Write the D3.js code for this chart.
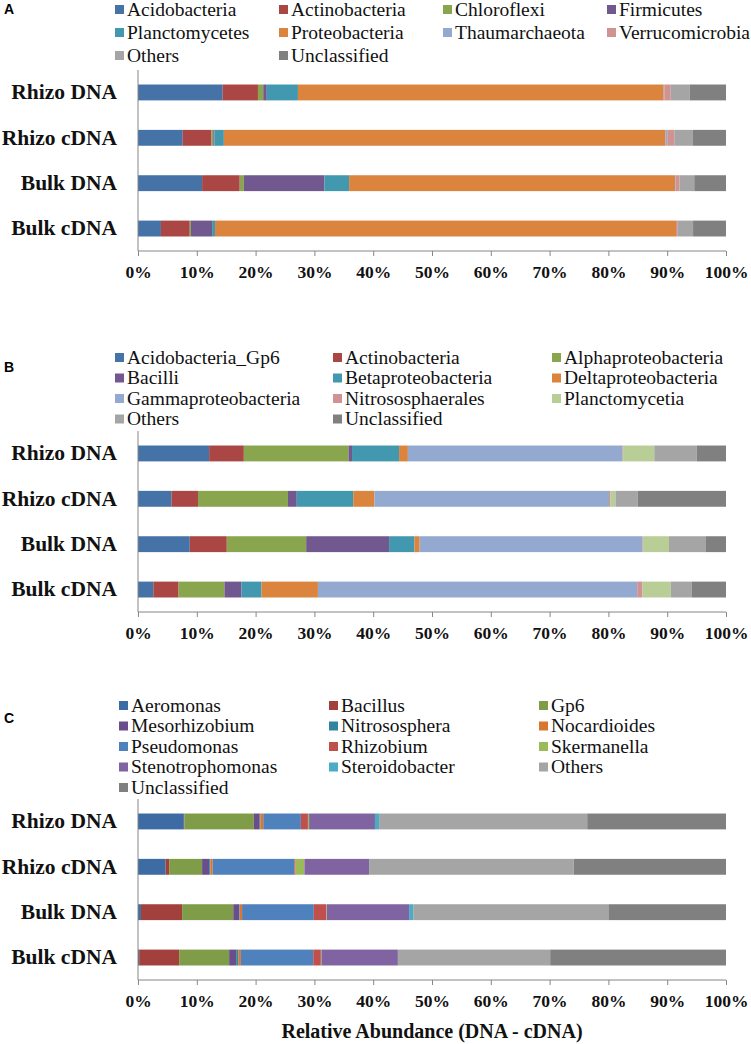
<!DOCTYPE html>
<html>
<head>
<meta charset="utf-8">
<script src="https://cdn.jsdelivr.net/npm/d3@7"></script>
<style>
  body { margin: 0; background: #fff; }
  svg { display: block; }
  .serif { font-family: 'Liberation Serif', 'Times New Roman', serif; }
</style>
</head>
<body>
<div id="chart"></div>
<script>
// samples (same order top to bottom in every panel)
const samples = ['Rhizo DNA', 'Rhizo cDNA', 'Bulk DNA', 'Bulk cDNA'];
const ticks = [0, 10, 20, 30, 40, 50, 60, 70, 80, 90, 100];

// panel A - phyla
const phylaTaxa = ['Acidobacteria', 'Actinobacteria', 'Chloroflexi', 'Firmicutes',
  'Planctomycetes', 'Proteobacteria', 'Thaumarchaeota', 'Verrucomicrobia',
  'Others', 'Unclassified'];
const phylaColors = ['#4572a7', '#aa4643', '#89a54e', '#71588f', '#4198af',
  '#db843d', '#93a9cf', '#d19392', '#a5a5a5', '#808080'];
const phylaValues = [
  [14.4, 6.0, 0.9, 0.6, 5.3, 62.2, 0.1, 1.1, 3.2, 6.2],
  [7.6, 4.9, 0.3, 0.2, 1.6, 75.1, 0.3, 1.2, 3.1, 5.7],
  [10.9, 6.4, 0.7, 13.7, 4.2, 55.5, 0.1, 0.6, 2.5, 5.4],
  [3.9, 4.9, 0.2, 3.6, 0.5, 78.4, 0.0, 0.3, 2.6, 5.6]
];

// panel B - classes
const classTaxa = ['Acidobacteria_Gp6', 'Actinobacteria', 'Alphaproteobacteria',
  'Bacilli', 'Betaproteobacteria', 'Deltaproteobacteria', 'Gammaproteobacteria',
  'Nitrososphaerales', 'Planctomycetia', 'Others', 'Unclassified'];
const classColors = ['#4572a7', '#aa4643', '#89a54e', '#71588f', '#4198af',
  '#db843d', '#93a9cf', '#d19392', '#b9cd96', '#a5a5a5', '#808080'];
const classValues = [
  [12.1, 5.9, 17.8, 0.6, 8.0, 1.5, 36.5, 0.1, 5.3, 7.2, 5.0],
  [5.7, 4.5, 15.3, 1.5, 9.6, 3.6, 39.9, 0.2, 0.9, 3.8, 15.0],
  [8.8, 6.3, 13.5, 14.1, 4.3, 0.9, 37.9, 0.1, 4.4, 6.2, 3.5],
  [2.6, 4.3, 7.8, 2.9, 3.4, 9.6, 54.3, 0.9, 4.8, 3.6, 5.8]
];

// panel C - genera
const genusTaxa = ['Aeromonas', 'Bacillus', 'Gp6', 'Mesorhizobium', 'Nitrososphera',
  'Nocardioides', 'Pseudomonas', 'Rhizobium', 'Skermanella', 'Stenotrophomonas',
  'Steroidobacter', 'Others', 'Unclassified'];
const genusColors = ['#3d6ba3', '#a2403d', '#7f9c48', '#6a4e8b', '#32859c',
  '#d8782f', '#4f81bd', '#c0504d', '#9bbb59', '#8064a2', '#4bacc6',
  '#a5a5a5', '#808080'];
const genusValues = [
  [7.8, 0.1, 11.8, 1.0, 0.1, 0.5, 6.4, 1.2, 0.2, 11.2, 0.7, 35.4, 23.6],
  [4.7, 0.6, 5.6, 1.2, 0.2, 0.4, 13.9, 0.2, 1.5, 11.0, 0.0, 34.8, 25.9],
  [0.5, 7.0, 8.7, 1.0, 0.1, 0.4, 12.2, 2.1, 0.1, 14.0, 0.7, 33.2, 20.0],
  [0.2, 6.8, 8.5, 1.2, 0.4, 0.4, 12.3, 1.3, 0.1, 13.0, 0.0, 25.9, 29.9]
];

const width = 751;
const height = 1044;
const axisColor = '#868686';

const svg = d3.select('#chart')
  .append('svg')
  .attr('width', width)
  .attr('height', height);

const x = d3.scaleLinear().domain([0, 100]).range([138, 726]);

function drawPanel(p) {
  const g = svg.append('g');

  // panel letter
  g.append('text')
    .attr('x', 4)
    .attr('y', p.letterY)
    .attr('dy', '0.35em')
    .style('font-family', 'Liberation Sans, Arial, sans-serif')
    .style('font-weight', 'bold')
    .style('font-size', '14px')
    .text(p.letter);

  // legend, filled row by row
  const leg = g.selectAll('.leg')
    .data(p.taxa)
    .enter()
    .append('g')
    .attr('transform', (d, i) => {
      const col = i % p.legendCols.length;
      const row = Math.floor(i / p.legendCols.length);
      return `translate(${p.legendCols[col]}, ${p.legendY + row * p.legendStep})`;
    });
  leg.append('rect')
    .attr('x', 0)
    .attr('y', -4)
    .attr('width', 9)
    .attr('height', 9)
    .attr('fill', (d, i) => p.colors[i]);
  leg.append('text')
    .attr('class', 'serif')
    .attr('x', 12)
    .attr('dy', '0.35em')
    .style('font-size', '19.5px')
    .attr('fill', '#111')
    .text((d) => d);

  // stacked bars
  const rows = samples.map((s, i) => {
    const r = { sample: s };
    p.taxa.forEach((t, j) => { r[t] = p.values[i][j]; });
    return r;
  });
  const series = d3.stack().keys(p.taxa)(rows);

  const y = d3.scaleBand()
    .domain(samples)
    .range([p.plotTop, p.plotBottom])
    .paddingInner(0.65)
    .paddingOuter(0.32);

  g.selectAll('.series')
    .data(series)
    .enter()
    .append('g')
    .attr('fill', (d, i) => p.colors[i])
    .selectAll('rect')
    .data((d) => d)
    .enter()
    .append('rect')
    .attr('x', (d) => x(d[0]))
    .attr('y', (d) => y(d.data.sample))
    .attr('width', (d) => Math.max(0, x(d[1]) - x(d[0])))
    .attr('height', y.bandwidth());

  // category axis
  const yAxis = g.append('g')
    .attr('transform', `translate(${x(0)}, 0)`)
    .call(d3.axisLeft(y).tickSize(0).tickPadding(21));
  yAxis.select('.domain').attr('stroke', axisColor).attr('d', `M0,${p.plotTop}V${p.plotBottom}`);
  yAxis.selectAll('text')
    .attr('class', 'serif')
    .style('font-size', '21.5px')
    .style('font-weight', 'bold')
    .attr('fill', '#111');

  // value axis
  const xAxis = g.append('g')
    .attr('transform', `translate(0, ${p.plotBottom})`)
    .call(d3.axisBottom(x)
      .tickValues(ticks)
      .tickSize(5)
      .tickPadding(10)
      .tickFormat((d) => d + '%'));
  xAxis.select('.domain').attr('stroke', axisColor).attr('d', `M${x(0)},0H${x(100)}`);
  xAxis.selectAll('.tick line').attr('stroke', axisColor);
  xAxis.selectAll('text')
    .attr('class', 'serif')
    .style('font-size', '17.5px')
    .style('font-weight', 'bold')
    .attr('fill', '#111');
}

drawPanel({
  letter: 'A', letterY: 9,
  taxa: phylaTaxa, colors: phylaColors, values: phylaValues,
  legendCols: [115, 279, 443, 607], legendY: 9, legendStep: 23,
  plotTop: 70, plotBottom: 251
});

drawPanel({
  letter: 'B', letterY: 367,
  taxa: classTaxa, colors: classColors, values: classValues,
  legendCols: [115, 333, 552], legendY: 357, legendStep: 20.5,
  plotTop: 431, plotBottom: 612
});

drawPanel({
  letter: 'C', letterY: 718,
  taxa: genusTaxa, colors: genusColors, values: genusValues,
  legendCols: [119, 329, 539], legendY: 705, legendStep: 20.5,
  plotTop: 799, plotBottom: 980
});

svg.append('text')
  .attr('class', 'serif')
  .attr('x', (x(0) + x(100)) / 2)
  .attr('y', 1031)
  .attr('dy', '0.35em')
  .attr('text-anchor', 'middle')
  .style('font-size', '20px')
  .style('font-weight', 'bold')
  .attr('fill', '#111')
  .text('Relative Abundance (DNA - cDNA)');
</script>
</body>
</html>
